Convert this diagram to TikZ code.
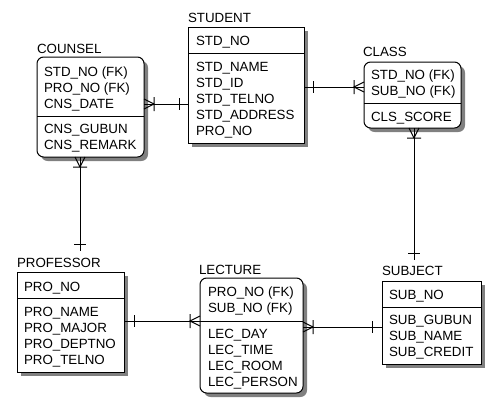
\documentclass[tikz,border=0pt]{standalone}
\usepackage{fontspec}
\setmainfont{Liberation Sans}
\usetikzlibrary{fit,shadows,calc}
\tikzset{
  conn/.style={line width=0.75pt, black},
  ent/.style={draw, line width=0.75pt, fill=white, inner sep=0pt, outer sep=0pt,
    drop shadow={shadow xshift=3pt, shadow yshift=-3pt, fill=black!50, opacity=1}},
  roundent/.style={ent, rounded corners=5pt},
  txt/.style={anchor=base west, inner sep=0pt, outer sep=0pt, font=\fontsize{10}{12}\selectfont},
  divider/.style={line width=0.75pt},
  crowE/.pic={\draw[conn] (10,-7) -- (10,7) (0,-5) -- (10,0) -- (0,5);},
  crowW/.pic={\draw[conn] (-10,-7) -- (-10,7) (0,-5) -- (-10,0) -- (0,5);},
  crowS/.pic={\draw[conn] (-7,10) -- (7,10) (-5,0) -- (0,10) -- (5,0);},
  barV/.pic={\draw[conn] (0,-6) -- (0,6);},
  barH/.pic={\draw[conn] (-6,0) -- (6,0);},
}
\begin{document}
\begin{tikzpicture}[x=0.75pt, y=-0.75pt]
\useasboundingbox (0,0) rectangle (504,412);

% ---------- entity boxes ----------
\node[roundent, fit={(37,57) (144,157)}] (counsel) {};
\node[ent, fit={(188,27) (304,143)}] (student) {};
\node[roundent, fit={(364,62) (461,128)}] (class) {};
\node[ent, fit={(17,272) (124,372)}] (professor) {};
\node[roundent, fit={(200,278) (303,393)}] (lecture) {};
\node[ent, fit={(382,281) (481,364)}] (subject) {};

% dividers
\draw[divider] (counsel.west |- 0,116) -- (counsel.east |- 0,116);
\draw[divider] (student.west |- 0,53) -- (student.east |- 0,53);
\draw[divider] (class.west |- 0,103) -- (class.east |- 0,103);
\draw[divider] (professor.west |- 0,298) -- (professor.east |- 0,298);
\draw[divider] (lecture.west |- 0,321) -- (lecture.east |- 0,321);
\draw[divider] (subject.west |- 0,307) -- (subject.east |- 0,307);

% ---------- titles ----------
\node[txt] (tcounsel) at (37,53) {COUNSEL};
\node[txt] (tstudent) at (188,22) {STUDENT};
\node[txt] (tclass) at (363,56) {CLASS};
\node[txt] (tprofessor) at (17,267) {PROFESSOR};
\node[txt] (tlecture) at (199,274) {LECTURE};
\node[txt] (tsubject) at (382,275) {SUBJECT};

% ---------- attributes ----------
% COUNSEL
\node[txt] (c1) at (44,76) {STD\_NO (FK)};
\node[txt] (c2) at (44,92) {PRO\_NO (FK)};
\node[txt] (c3) at (44,108) {CNS\_DATE};
\node[txt] (c4) at (44,133) {CNS\_GUBUN};
\node[txt] (c5) at (44,149) {CNS\_REMARK};
% STUDENT
\node[txt] (s1) at (196,45) {STD\_NO};
\node[txt] (s2) at (196,71.5) {STD\_NAME};
\node[txt] (s3) at (196,87.5) {STD\_ID};
\node[txt] (s4) at (196,103.5) {STD\_TELNO};
\node[txt] (s5) at (196,119.5) {STD\_ADDRESS};
\node[txt] (s6) at (196,135.5) {PRO\_NO};
% CLASS
\node[txt] (k1) at (371,79) {STD\_NO (FK)};
\node[txt] (k2) at (371,95) {SUB\_NO (FK)};
\node[txt] (k3) at (371,121) {CLS\_SCORE};
% PROFESSOR
\node[txt] (p1) at (24,291) {PRO\_NO};
\node[txt] (p2) at (24,316) {PRO\_NAME};
\node[txt] (p3) at (24,332) {PRO\_MAJOR};
\node[txt] (p4) at (24,348) {PRO\_DEPTNO};
\node[txt] (p5) at (24,364) {PRO\_TELNO};
% LECTURE
\node[txt] (l1) at (208,296) {PRO\_NO (FK)};
\node[txt] (l2) at (208,312) {SUB\_NO (FK)};
\node[txt] (l3) at (208,338) {LEC\_DAY};
\node[txt] (l4) at (208,354) {LEC\_TIME};
\node[txt] (l5) at (208,370) {LEC\_ROOM};
\node[txt] (l6) at (208,386) {LEC\_PERSON};
% SUBJECT
\node[txt] (b1) at (389,299) {SUB\_NO};
\node[txt] (b2) at (389,324) {SUB\_GUBUN};
\node[txt] (b3) at (389,340) {SUB\_NAME};
\node[txt] (b4) at (389,356) {SUB\_CREDIT};

% ---------- relationships ----------
% COUNSEL -- STUDENT
\draw[conn] (counsel.east |- 0,104) -- (student.west |- 0,104);
\pic at (counsel.east |- 0,104) {crowE};
\pic at ($(student.west |- 0,104)+(-9,0)$) {barV};

% STUDENT -- CLASS
\draw[conn] (student.east |- 0,87) -- (class.west |- 0,87);
\pic at ($(student.east |- 0,87)+(9,0)$) {barV};
\pic at (class.west |- 0,87) {crowW};

% COUNSEL -- PROFESSOR
\coordinate (pend) at ($(professor.north -| 80,0)+(0,-21)$);
\draw[conn] (counsel.south -| 80,0) -- (pend);
\pic at (counsel.south -| 80,0) {crowS};
\pic at ($(professor.north -| 80,0)+(0,-28)$) {barH};

% CLASS -- SUBJECT
\coordinate (send) at ($(subject.north -| 414,0)+(0,-21)$);
\draw[conn] (class.south -| 414,0) -- (send);
\pic at (class.south -| 414,0) {crowS};
\pic at ($(subject.north -| 414,0)+(0,-28)$) {barH};

% PROFESSOR -- LECTURE
\draw[conn] (professor.east |- 0,321) -- (lecture.west |- 0,321);
\pic at ($(professor.east |- 0,321)+(10,0)$) {barV};
\pic at (lecture.west |- 0,321) {crowW};

% LECTURE -- SUBJECT
\draw[conn] (lecture.east |- 0,327) -- (subject.west |- 0,327);
\pic at (lecture.east |- 0,327) {crowE};
\pic at ($(subject.west |- 0,327)+(-10,0)$) {barV};
\end{tikzpicture}
\end{document}
